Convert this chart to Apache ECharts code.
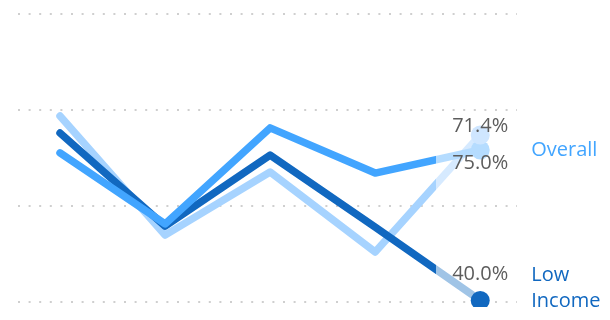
<!DOCTYPE html>
<html>
<head>
<meta charset="utf-8">
<script src="https://cdn.jsdelivr.net/npm/echarts@6/dist/echarts.min.js"></script>
<style>
  html, body { margin: 0; padding: 0; background: #fff; }
  #chart { width: 610px; height: 307px; }
</style>
</head>
<body>
<div id="chart"></div>
<script>
const categories = ['P1', 'P2', 'P3', 'P4', 'P5']
const overall = [46.6, 24.4, 54.4, 40.3, 47.5]
const lowIncome = [52.8, 23.7, 45.9, 23.4, 0.5]
const highIncome = [58.1, 20.9, 40.6, 15.6, 52.2]
const endValues = ['75.0%', '40.0%', '71.4%']
const seriesNames = ['Overall', 'Low Income', 'High Income']
const yTicks = [0, 30, 60, 90]

const colors = ['#42a5ff', '#1168c0', '#a6d3ff']
const tailColors = ['#b5dcff', '#a0c4e6', '#d6eaff']
const dotColors = ['#b5dcff', '#1168c0', '#cfe6ff']
const labelOffsets = [[0, 13], [0, -26], [0, -9]]
const font = 'Segoe UI, Open Sans, sans-serif'

const allSeries = [overall, lowIncome, highIncome]
const last = categories.length - 1
// the lighter tail starts a bit past the middle of the last segment
const tailStart = (last - 0.45) / last

const toPairs = arr => arr.map((v, i) => [i, v])

const tailGradient = (c, t) => new echarts.graphic.LinearGradient(0, 0, 1, 0, [
  { offset: 0, color: c },
  { offset: tailStart, color: c },
  { offset: tailStart, color: t },
  { offset: 1, color: t }
])

const lineSeries = allSeries.map((arr, k) => ({
  name: seriesNames[k],
  type: 'line',
  data: toPairs(arr),
  symbol: 'none',
  z: 3 - k,
  lineStyle: { width: 7.5, cap: 'round', join: 'round', color: tailGradient(colors[k], tailColors[k]) },
  endLabel: {
    show: k < 2,
    formatter: k === 1 ? 'Low\nIncome' : seriesNames[k],
    color: colors[k],
    fontSize: 20,
    lineHeight: 26,
    fontFamily: font,
    distance: 51,
    offset: k === 1 ? [0, -12] : [0, 0]
  }
}))

const endDots = {
  type: 'scatter',
  z: 10,
  symbolSize: 19,
  itemStyle: { opacity: 1 },
  data: allSeries.map((arr, k) => ({
    value: [last, arr[last]],
    itemStyle: { color: dotColors[k], opacity: 1 },
    label: {
      show: true,
      position: 'inside',
      offset: labelOffsets[k],
      formatter: endValues[k],
      color: '#5c5c5c',
      fontSize: 20,
      fontFamily: font
    }
  }))
}

const chart = echarts.init(document.getElementById('chart'))
chart.setOption({
  animation: false,
  grid: { left: 18, right: 93, top: 14, bottom: 5 },
  xAxis: {
    type: 'value',
    show: false,
    min: -0.4,
    max: 4.35
  },
  yAxis: {
    type: 'value',
    min: yTicks[0],
    max: yTicks[yTicks.length - 1],
    interval: yTicks[1] - yTicks[0],
    axisLabel: { show: false },
    axisLine: { show: false },
    axisTick: { show: false },
    splitLine: {
      lineStyle: { color: '#cfcfcf', width: 2, type: [2, 8.6] }
    }
  },
  series: [...lineSeries, endDots]
})
</script>
</body>
</html>
